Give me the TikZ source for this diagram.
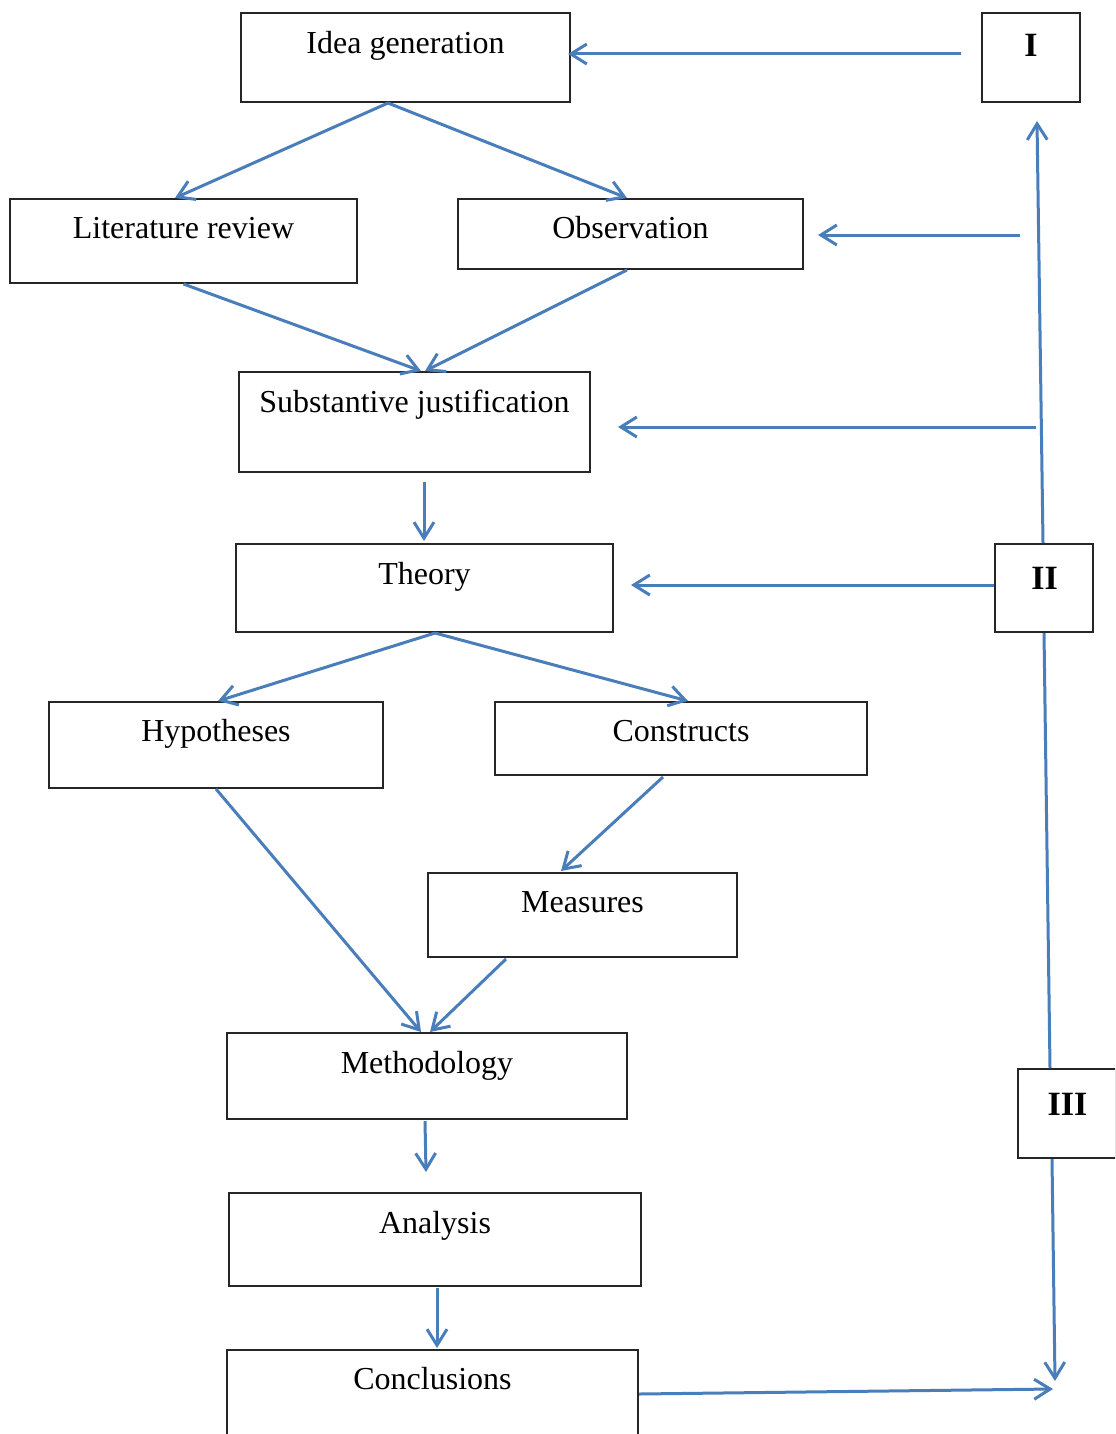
\documentclass[tikz,border=0pt]{standalone}
\usepackage{fontspec}
\setmainfont{Liberation Serif}
\usetikzlibrary{arrows.meta,calc}
\definecolor{arrowblue}{HTML}{4A7EBB}
\tikzset{
  box/.style={draw=black!85, line width=1pt, inner sep=0pt},
  lbl/.style={anchor=base, inner sep=0pt, font=\fontsize{16}{19}\selectfont},
  roman/.style={anchor=base, inner sep=0pt, font=\fontsize{17}{20}\selectfont\bfseries},
  conn/.style={draw=arrowblue, line width=1.5pt, -{Straight Barb[length=8pt,width=10pt,line width=1.5pt]}},
  plain/.style={draw=arrowblue, line width=1.5pt}
}
\begin{document}
\begin{tikzpicture}[x=0.5pt,y=-0.5pt]
\useasboundingbox (0,0) rectangle (1115,1434);
\clip (0,0) rectangle (1115,1434);
\fill[white] (0,0) rectangle (1115,1434);

% boxes
\node[box, minimum width=164.5pt, minimum height=44.5pt] (idea) at (405.5,57.5) {};
\node[lbl] (idea-t) at (405.5,53.5) {Idea generation};
\node[box, minimum width=49pt, minimum height=44.5pt] (b1) at (1031,57.5) {};
\node[roman] (b1-t) at (1031,57) {I};
\node[box, minimum width=173.5pt, minimum height=42pt] (lit) at (183.5,241) {};
\node[lbl] (lit-t) at (183.5,238.5) {Literature review};
\node[box, minimum width=172.5pt, minimum height=35pt] (obs) at (630.5,234) {};
\node[lbl] (obs-t) at (630.5,238.5) {Observation};
\node[box, minimum width=175.5pt, minimum height=50pt] (sub) at (414.5,422) {};
\node[lbl] (sub-t) at (414.5,412.5) {Substantive justification};
\node[box, minimum width=188.5pt, minimum height=44pt] (theory) at (424.5,588) {};
\node[lbl] (theory-t) at (424.5,584.5) {Theory};
\node[box, minimum width=49pt, minimum height=44pt] (b2) at (1044,588) {};
\node[roman] (b2-t) at (1044.5,589) {II};
\node[box, minimum width=167pt, minimum height=43pt] (hyp) at (216,745) {};
\node[lbl] (hyp-t) at (216,741.5) {Hypotheses};
\node[box, minimum width=186pt, minimum height=36.5pt] (con) at (681,738.5) {};
\node[lbl] (con-t) at (681,741.5) {Constructs};
\node[box, minimum width=154.5pt, minimum height=42pt] (mea) at (582.5,915) {};
\node[lbl] (mea-t) at (582.5,912.5) {Measures};
\node[box, minimum width=200pt, minimum height=43pt] (meth) at (427,1076) {};
\node[lbl] (meth-t) at (427,1073.5) {Methodology};
\node[box, minimum width=49pt, minimum height=44.5pt] (b3) at (1067,1113.5) {};
\node[roman] (b3-t) at (1067.5,1115) {III};
\node[box, minimum width=206pt, minimum height=46.5pt] (ana) at (435,1239.5) {};
\node[lbl] (ana-t) at (435,1233.5) {Analysis};
\node[box, minimum width=205.5pt, minimum height=46pt] (conc) at (432.5,1396) {};
\node[lbl] (conc-t) at (432.5,1389.5) {Conclusions};

% free-end coordinates
\coordinate (c-obs) at (1020,235);
\coordinate (c-sub) at (1036,427);
\coordinate (c-end) at (1055,1381);
\coordinate (c-end2) at (1053,1389);
\coordinate (c-up) at (1037,121);
\coordinate (c-i) at (961,54);

% connectors
\draw[conn] (c-i) -- ($(idea.east)+(-3,-3.5)$);
\draw[conn] ($(idea.south)+(-17.5,0)$) -- ($(lit.north)+(-8.5,0)$);
\draw[conn] ($(idea.south)+(-17.5,0)$) -- ($(obs.north)+(-3.5,0)$);
\draw[conn] (c-obs) -- ($(obs.east)+(14,1)$);
\draw[conn] (lit.south) -- ($(sub.north)+(6.5,0)$);
\draw[conn] ($(obs.south)+(-3.5,0)$) -- ($(sub.north)+(10.5,0)$);
\draw[conn] (c-sub) -- ($(sub.east)+(27,5)$);
\draw[conn] ($(sub.south)+(9.5,9)$) -- ($(theory.north)+(-0.5,-2)$);
\draw[conn] ($(b2.west)+(0,-3)$) -- ($(theory.east)+(17,-3)$);
\draw[conn] ($(theory.south)+(10.5,0)$) -- ($(hyp.north)+(2,0)$);
\draw[conn] ($(theory.south)+(10.5,0)$) -- ($(con.north)+(7,0)$);
\draw[conn] ($(b2.north)+(-1,0)$) -- (c-up);
\draw[conn] ($(con.south)+(-18,1)$) -- ($(mea.north)+(-21.5,-1)$);
\draw[conn] (hyp.south) -- ($(meth.north)+(-6,0)$);
\draw[conn] ($(mea.south)+(-76.5,1)$) -- ($(meth.north)+(3,0)$);
\draw[conn] ($(meth.south)+(-2,1)$) -- ($(ana.north)+(-9,-20)$);
\draw[conn] ($(ana.south)+(2,1)$) -- ($(conc.north)+(4.5,-1)$);
\draw[plain] (b2.south) -- ($(b3.north)+(-17,0)$);
\draw[conn] ($(b3.south)+(-15,0)$) -- (c-end);
\draw[conn] ($(conc.east)+(0,-2)$) -- (c-end2);
\end{tikzpicture}
\end{document}
